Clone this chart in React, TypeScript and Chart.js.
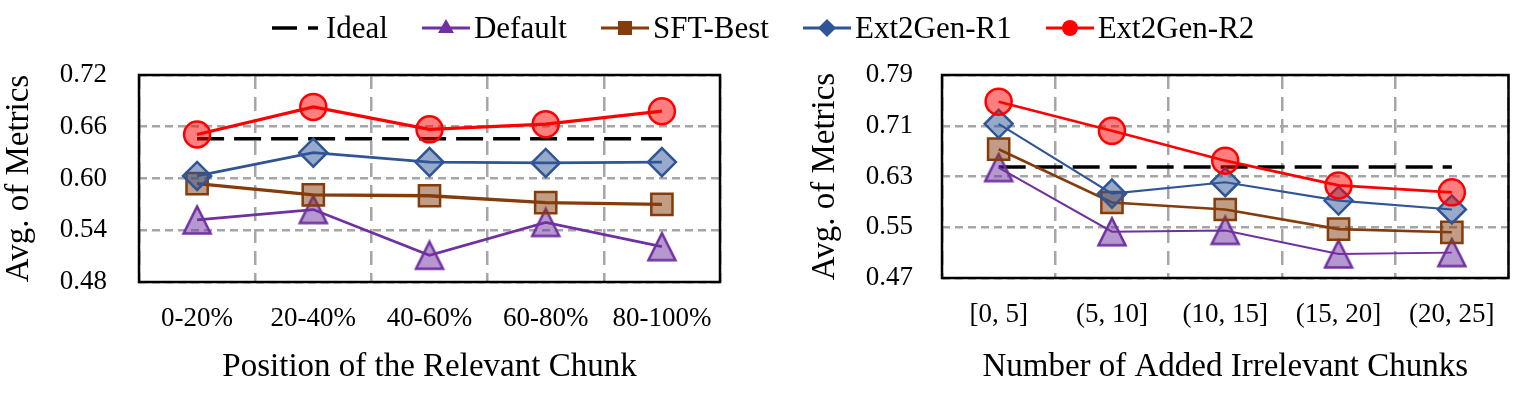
import React, { useEffect, useRef } from "react";
import { Chart, registerables } from "chart.js";

Chart.register(...registerables);

// ---------- data ----------
const leftCategories = ["0-20%", "20-40%", "40-60%", "60-80%", "80-100%"];
const leftIdeal = [0.646, 0.646, 0.646, 0.646, 0.646];
const leftDefault = [0.552, 0.564, 0.511, 0.549, 0.521];
const leftSFT = [0.594, 0.581, 0.58, 0.572, 0.57];
const leftR1 = [0.603, 0.63, 0.619, 0.618, 0.619];
const leftR2 = [0.651, 0.683, 0.657, 0.663, 0.678];
const leftTicks = [0.48, 0.54, 0.6, 0.66, 0.72];

const rightCategories = ["[0, 5]", "(5, 10]", "(10, 15]", "(15, 20]", "(20, 25]"];
const rightIdeal = [0.645, 0.645, 0.645, 0.645, 0.645];
const rightDefault = [0.644, 0.543, 0.545, 0.508, 0.51];
const rightSFT = [0.673, 0.589, 0.578, 0.547, 0.542];
const rightR1 = [0.713, 0.603, 0.621, 0.592, 0.578];
const rightR2 = [0.748, 0.702, 0.655, 0.616, 0.605];
const rightTicks = [0.47, 0.55, 0.63, 0.71, 0.79];

const seriesNames = ["Ideal", "Default", "SFT-Best", "Ext2Gen-R1", "Ext2Gen-R2"];

// ---------- styles ----------
const FONT = "'Liberation Serif', 'Times New Roman', serif";
const PURPLE = "#7030a0";
const BROWN = "#843c0c";
const BLUE = "#2f5597";
const RED = "#ff0000";
const GRID = "#a6a6a6";

let triangleImg: HTMLCanvasElement | null = null;
function getTriangle(): HTMLCanvasElement {
  if (triangleImg) return triangleImg;
  const c = document.createElement("canvas");
  c.width = 32;
  c.height = 32;
  const ctx = c.getContext("2d")!;
  ctx.beginPath();
  ctx.moveTo(16, 2.5);
  ctx.lineTo(29.5, 29.5);
  ctx.lineTo(2.5, 29.5);
  ctx.closePath();
  ctx.fillStyle = "rgba(112,48,160,0.5)";
  ctx.fill();
  ctx.lineWidth = 2.5;
  ctx.lineJoin = "miter";
  ctx.strokeStyle = PURPLE;
  ctx.stroke();
  triangleImg = c;
  return c;
}

const framePlugin = {
  id: "frame",
  afterDraw(chart: any) {
    const { ctx, chartArea } = chart;
    const { left, top, right, bottom } = chartArea;
    ctx.save();
    ctx.strokeStyle = "#000";
    ctx.lineWidth = 2.5;
    ctx.strokeRect(left, top, right - left, bottom - top);
    ctx.restore();
  },
};

function line(label: string, data: number[], color: string, fill: string, style: any, radius: number, lw: number, order: number) {
  return {
    label,
    data,
    borderColor: color,
    backgroundColor: fill,
    borderWidth: lw,
    pointStyle: style,
    pointRadius: radius,
    pointBorderWidth: 2.5,
    pointBorderColor: color,
    pointBackgroundColor: fill,
    tension: 0,
    order,
  };
}

interface Cfg {
  categories: string[];
  ideal: number[];
  def: number[];
  sft: number[];
  r1: number[];
  r2: number[];
  ticks: number[];
  xTitle: string;
  padLeft: number;
  padRight: number;
  yWidth: number;
  xHeight: number;
  yTickPad: number;
  lw: number;
}

function makeConfig(c: Cfg): any {
  return {
    type: "line",
    data: {
      labels: c.categories,
      datasets: [
        {
          label: seriesNames[0],
          data: c.ideal,
          borderColor: "#000",
          borderWidth: 3.5,
          borderDash: [27, 10],
          pointRadius: 0,
          order: 5,
        },
        line(seriesNames[1], c.def, PURPLE, "rgba(112,48,160,0.5)", getTriangle(), 15, c.lw - 0.6, 4),
        line(seriesNames[2], c.sft, BROWN, "rgba(132,60,12,0.5)", "rect", 15, c.lw, 3),
        line(seriesNames[3], c.r1, BLUE, "rgba(47,85,151,0.5)", "rectRot", 14, c.lw - 0.5, 2),
        line(seriesNames[4], c.r2, RED, "rgba(255,0,0,0.5)", "circle", 13, c.lw, 1),
      ],
    },
    options: {
      responsive: false,
      animation: false,
      layout: { padding: { top: 75, left: c.padLeft, right: c.padRight, bottom: 0 } },
      plugins: { legend: { display: false }, tooltip: { enabled: false } },
      scales: {
        x: {
          offset: true,
          grid: { offset: true, color: GRID, lineWidth: 2.5, drawTicks: false },
          border: { display: false, dash: [14, 8] },
          ticks: { color: "#000", font: { family: FONT, size: 27 }, padding: 21, maxRotation: 0 },
          title: {
            display: true,
            text: c.xTitle,
            color: "#000",
            font: { family: FONT, size: 33 },
            padding: { top: 0, bottom: 9 },
          },
          afterFit(scale: any) {
            scale.height = c.xHeight;
          },
        },
        y: {
          min: c.ticks[0],
          max: c.ticks[c.ticks.length - 1],
          afterBuildTicks(scale: any) {
            scale.ticks = c.ticks.map((v) => ({ value: v }));
          },
          grid: { color: GRID, lineWidth: 2.5, drawTicks: false },
          border: { display: false, dash: [8, 5] },
          ticks: {
            color: "#000",
            font: { family: FONT, size: 27 },
            padding: c.yTickPad,
            callback: (v: any) => Number(v).toFixed(2),
          },
          title: {
            display: true,
            text: "Avg. of Metrics",
            color: "#000",
            font: { family: FONT, size: 33 },
            padding: { top: 0, bottom: 0 },
          },
          afterFit(scale: any) {
            scale.width = c.yWidth;
          },
        },
      },
    },
    plugins: [framePlugin],
  };
}

function ChartBox({ cfg, left, width }: { cfg: Cfg; left: number; width: number }) {
  const ref = useRef<HTMLCanvasElement | null>(null);
  useEffect(() => {
    if (!ref.current) return;
    const chart = new Chart(ref.current, makeConfig(cfg));
    return () => chart.destroy();
  }, []);
  return (
    <canvas
      ref={ref}
      width={width}
      height={396}
      style={{ position: "absolute", left, top: 0, width, height: 396 }}
    />
  );
}

function Icon({ kind }: { kind: number }) {
  const w = 48;
  if (kind === 0) {
    return (
      <svg width={46} height={36}>
        <line x1={0} x2={25} y1={18} y2={18} stroke="#000" strokeWidth={3.5} />
        <line x1={36} x2={46} y1={18} y2={18} stroke="#000" strokeWidth={3.5} />
      </svg>
    );
  }
  const color = [null, PURPLE, BROWN, BLUE, RED][kind] as string;
  let marker: any = null;
  if (kind === 1) marker = <polygon points="24,9 32,23 16,23" fill={color} />;
  if (kind === 2) marker = <rect x={17} y={11} width={14} height={14} fill={color} />;
  if (kind === 3) marker = <polygon points="24,9 33,18 24,27 15,18" fill={color} />;
  if (kind === 4) marker = <circle cx={24} cy={18} r={8} fill={color} />;
  return (
    <svg width={w} height={36}>
      <line x1={0} x2={w} y1={18} y2={18} stroke={color} strokeWidth={3} />
      {marker}
    </svg>
  );
}

export default function App() {
  const leftCfg: Cfg = {
    categories: leftCategories,
    ideal: leftIdeal,
    def: leftDefault,
    sft: leftSFT,
    r1: leftR1,
    r2: leftR2,
    ticks: leftTicks,
    xTitle: "Position of the Relevant Chunk",
    padLeft: 0,
    padRight: 20,
    yWidth: 139,
    xHeight: 396 - 282,
    yTickPad: 32,
    lw: 3.3,
  };
  const rightCfg: Cfg = {
    categories: rightCategories,
    ideal: rightIdeal,
    def: rightDefault,
    sft: rightSFT,
    r1: rightR1,
    r2: rightR2,
    ticks: rightTicks,
    xTitle: "Number of Added Irrelevant Chunks",
    padLeft: 46,
    padRight: 6,
    yWidth: 136,
    xHeight: 396 - 278,
    yTickPad: 29,
    lw: 2.6,
  };
  return (
    <div style={{ position: "absolute", left: 0, top: 0, width: 1526, height: 396, background: "#fff", overflow: "hidden" }}>
      <ChartBox cfg={leftCfg} left={0} width={740} />
      <ChartBox cfg={rightCfg} left={760} width={766} />
      <div
        style={{
          position: "absolute",
          left: 272,
          top: 10,
          display: "flex",
          alignItems: "center",
          fontFamily: FONT,
          fontSize: 31,
          lineHeight: "36px",
          whiteSpace: "nowrap",
          color: "#000",
        }}
      >
        {seriesNames.map((n, i) => (
          <div key={n} style={{ display: "flex", alignItems: "center", marginRight: 34 }}>
            <Icon kind={i} />
            <span style={{ marginLeft: i === 0 ? 8 : 4 }}>{n}</span>
          </div>
        ))}
      </div>
    </div>
  );
}
